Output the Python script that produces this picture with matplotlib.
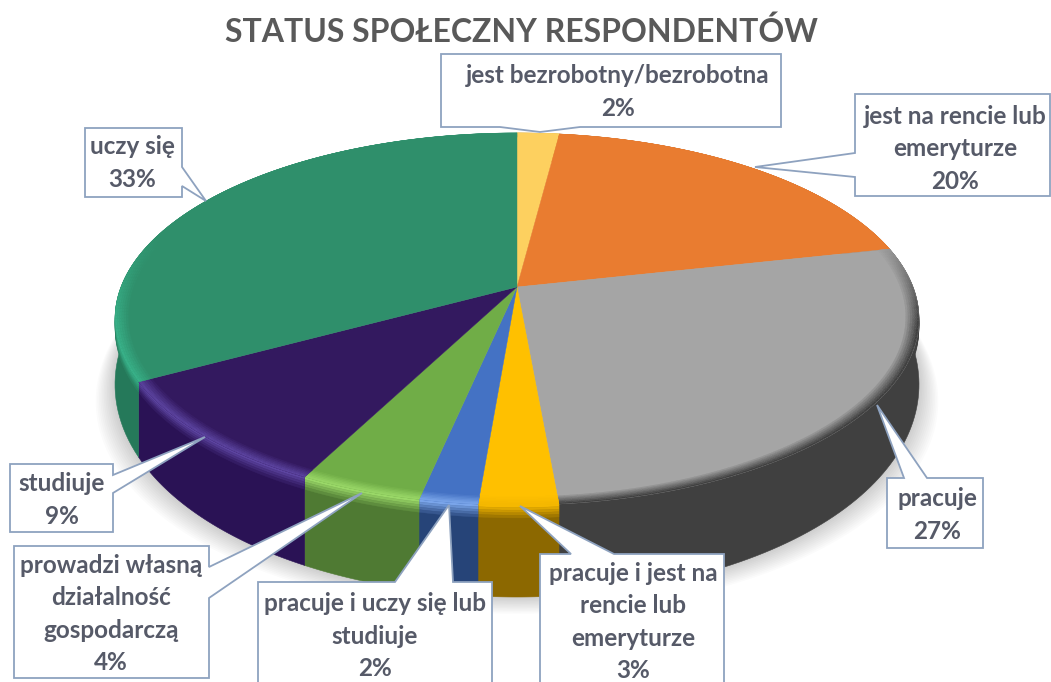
"""
Status of respondents, tilted 3D pie with callout labels
"""

import matplotlib
matplotlib.use('Agg')
import matplotlib.pyplot as plt
import numpy as np
from matplotlib.collections import PolyCollection
from matplotlib.colors import to_rgb
from matplotlib.patches import Polygon

title = 'STATUS SPOŁECZNY RESPONDENTÓW'

# clockwise from 12 o'clock; sizes estimated from the drawn slices
categories = ['jest bezrobotny/bezrobotna', 'jest na rencie lub\nemeryturze',
              'pracuje', 'pracuje i jest na\nrencie lub\nemeryturze',
              'pracuje i uczy się lub\nstudiuje',
              'prowadzi własną\ndziałalność\ngospodarczą',
              'studiuje', 'uczy się']
slice_sizes = [2.0, 19.5, 27.1, 2.7, 2.0, 4.2, 9.5, 33.0]
shown_percent = [2, 20, 27, 3, 2, 4, 9, 33]

top_colors = ['#fdd05f', '#e97c30', '#a5a5a5', '#ffc000',
              '#4472c4', '#70ad47', '#33195f', '#2f8f6b']
rim_colors = ['#fdd05f', '#e97c30', '#404040', '#f5b800',
              '#7aa5ea', '#9ad868', '#5c44a0', '#38b088']
wall_colors = ['#b8923a', '#a85a20', '#404040', '#8c6800',
               '#264478', '#4f7a33', '#2a1255', '#25795a']

# box (left, right, top, bottom), text centre, tail (base1, tip, base2)
callouts = [
    ((441, 781, 54, 127), (618, 92), ((500, 127), (540, 132), (580, 127))),
    ((855, 1050, 94, 196), (955, 149), ((855, 153), (755, 167), (855, 177))),
    ((887, 983, 478, 548), (937, 515), ((904, 478), (877, 405), (927, 478))),
    ((540, 724, 554, 690), (633, 622), ((571, 554), (520, 506), (614, 554))),
    ((258, 492, 582, 690), (375, 636), ((395, 582), (449, 505), (453, 582))),
    ((14, 209, 546, 678), (111, 614), ((209, 567), (362, 493), (209, 598))),
    ((10, 113, 464, 532), (62, 500), ((113, 475), (205, 437), (113, 493))),
    ((85, 182, 128, 197), (132, 163), ((182, 167), (206, 201), (182, 186))),
]

CX, CY, RX, RY, K = 517, 287, 396, 180.5, -0.172
TEXT_COLOR = '#565a68'
BORDER = '#8ea2bf'


def project(theta, r=1.0):
    """Perspective map of a point of the pie disc to pixel coordinates."""
    s = -r * np.cos(theta)
    den = 1 + K * s
    return CX + RX * r * np.sin(theta) / den, CY + RY * s / den


def wall_depth(theta):
    return 60 + 32 * (-np.cos(theta))


def blend(c1, c2, w):
    return tuple((1 - w) * a + w * b for a, b in zip(to_rgb(c1), to_rgb(c2)))


def draw_shadow(ax):
    theta = np.linspace(0, 2 * np.pi, 361)
    x, y = project(theta)
    y = y + wall_depth(theta)
    for g in np.linspace(24, 2, 12):
        ax.add_patch(Polygon(np.c_[CX + (x - CX) * (1 + g / 500), y + g * 0.7],
                             fc='k', ec='none', alpha=0.016))


def draw_walls(ax, edges):
    for a0, a1, rim, wall in zip(edges[:-1], edges[1:], rim_colors, wall_colors):
        theta = np.linspace(a0, a1, 80)
        x, y = project(theta)
        d = wall_depth(theta)
        ax.add_patch(Polygon(np.r_[np.c_[x, y], np.c_[x, y + d][::-1]],
                             fc=wall, ec=wall, lw=0.4))
        # lit band just below the rim
        fracs = np.linspace(0, 0.14, 6)
        for f0, f1 in zip(fracs[:-1], fracs[1:]):
            c = blend(rim, wall, f0 / 0.14)
            pts = np.r_[np.c_[x, y + f0 * d], np.c_[x, y + f1 * d][::-1]]
            ax.add_patch(Polygon(pts, fc=c, ec=c, lw=0.3))


def draw_top(ax, edges):
    for a0, a1, top, rim in zip(edges[:-1], edges[1:], top_colors, rim_colors):
        theta = np.linspace(a0, a1, 120)
        x, y = project(theta)
        ax.add_patch(Polygon(np.r_[[[CX, CY]], np.c_[x, y]],
                             fc=top, ec=top, lw=0.3))
        # lit bevel towards the viewer
        quads, cols = [], []
        rings = np.linspace(0.968, 1, 7)
        for r0, r1 in zip(rings[:-1], rings[1:]):
            for t0, t1 in zip(theta[:-1], theta[1:]):
                x00, y00 = project(t0, r0)
                x01, y01 = project(t1, r0)
                x11, y11 = project(t1, r1)
                x10, y10 = project(t0, r1)
                quads.append([(x00, y00), (x01, y01), (x11, y11), (x10, y10)])
                front = np.clip((-np.cos(t0) + 0.3) / 0.5, 0, 1)
                cols.append(blend(top, rim, front * (r1 - 0.968) / 0.032))
        ax.add_collection(PolyCollection(quads, facecolors=cols,
                                         edgecolors=cols, linewidths=0.2))


def draw_callout(ax, box, center, tail, text):
    left, right, top, bottom = box
    (bx0, by0), tip, (bx1, by1) = tail
    if by0 == by1 == top:
        pts = [(left, top), (bx0, by0), tip, (bx1, by1), (right, top),
               (right, bottom), (left, bottom)]
    elif by0 == by1 == bottom:
        pts = [(left, top), (right, top), (right, bottom), (bx1, by1), tip,
               (bx0, by0), (left, bottom)]
    elif bx0 == left:
        pts = [(left, top), (right, top), (right, bottom), (left, bottom),
               (bx1, by1), tip, (bx0, by0)]
    else:
        pts = [(left, top), (right, top), (bx0, by0), tip, (bx1, by1),
               (right, bottom), (left, bottom)]
    ax.add_patch(Polygon(pts, fc='white', ec=BORDER, lw=1.3, zorder=5))
    ax.text(center[0], center[1], text, ha='center', va='center', color=TEXT_COLOR,
            fontsize=17.5, fontweight='bold', family='Lato', linespacing=1.5,
            zorder=6)


fig = plt.figure(figsize=(10.51, 6.82), dpi=100)
ax = fig.add_axes([0, 0, 1, 1])
ax.set(xlim=(0, 1051), ylim=(682, 0))
ax.axis('off')

edges = 2 * np.pi * np.r_[0, np.cumsum(slice_sizes)] / np.sum(slice_sizes)
draw_shadow(ax)
draw_walls(ax, edges)
draw_top(ax, edges)

ax.text(521, 32, title, ha='center', va='center', fontsize=23,
        fontweight='bold', family='Lato', color='#595959')

for (box, center, tail), label, pct in zip(callouts, categories, shown_percent):
    draw_callout(ax, box, center, tail, '%s\n%d%%' % (label, pct))

fig.savefig('out.png', dpi=100)
plt.close()
